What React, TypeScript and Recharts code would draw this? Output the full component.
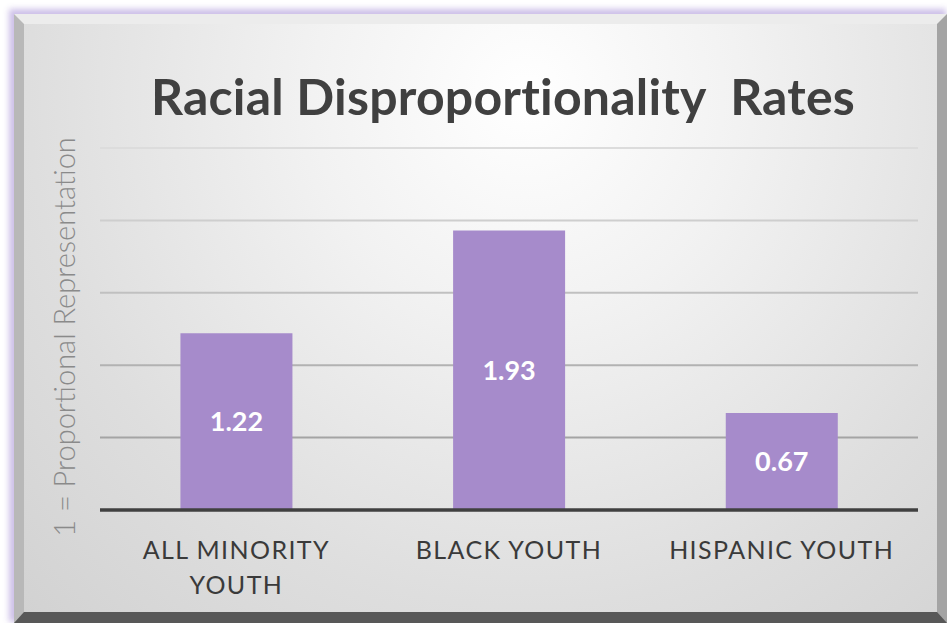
import React from "react";
import { BarChart, Bar, XAxis, YAxis, CartesianGrid, LabelList } from "recharts";

const categories = ["ALL MINORITY YOUTH", "BLACK YOUTH", "HISPANIC YOUTH"];
const tickLines: Record<string, string[]> = {
  "ALL MINORITY YOUTH": ["ALL MINORITY", "YOUTH"],
  "BLACK YOUTH": ["BLACK YOUTH"],
  "HISPANIC YOUTH": ["HISPANIC YOUTH"],
};
const rates = [1.22, 1.93, 0.67];
const yTicks = [0, 0.5, 1, 1.5, 2, 2.5];

const data = categories.map((name, i) => ({ name, rate: rates[i] }));

const FONT = "Lato, 'Open Sans', sans-serif";

function CategoryTick(props: any) {
  const { x, y, payload } = props;
  const lines = tickLines[payload.value] ?? [payload.value];
  return (
    <text
      x={x}
      y={y + 41}
      textAnchor="middle"
      fill="#3a3a3a"
      fontFamily={FONT}
      fontSize={25}
      letterSpacing={1.4}
    >
      {lines.map((l, i) => (
        <tspan key={l} x={x} dy={i === 0 ? 0 : 35}>
          {l}
        </tspan>
      ))}
    </text>
  );
}

// grid gets darker toward the baseline, like the original
function GridLine(props: any) {
  const { x1, x2, y1, y2 } = props;
  const t = Math.max(0, Math.min(1, (y1 - 148) / 290));
  const c = Math.round(0xdc - t * (0xdc - 0xa4));
  const hex = c.toString(16).padStart(2, "0");
  return <line x1={x1} x2={x2} y1={y1} y2={y2} stroke={`#${hex}${hex}${hex}`} strokeWidth={2} />;
}

export default function App() {
  return (
    <div style={{ position: "absolute", left: 0, top: 0, width: 947, height: 623, overflow: "hidden", background: "#fff" }}>
      {/* panel with bevelled frame */}
      <div
        style={{
          position: "absolute",
          left: 14,
          top: 14,
          width: 933,
          height: 609,
          boxSizing: "border-box",
          borderStyle: "solid",
          borderWidth: "10px 10px 11px 10px",
          borderColor: "#ececec #a4a4a4 #585858 #b8b8b8",
          background: "radial-gradient(ellipse at 55% 12%, #ffffff 0%, #f2f2f2 30%, #dedede 70%, #d2d2d2 100%)",
          boxShadow: "-3px -3px 6px 2px rgba(200,185,230,0.9)",
        }}
      />
      <div
        style={{
          position: "absolute",
          left: 0,
          top: 66,
          width: 1006,
          textAlign: "center",
          fontFamily: FONT,
          fontWeight: 700,
          fontSize: 50,
          color: "#404040",
          lineHeight: "60px",
          letterSpacing: 0.2,
        }}
      >
        Racial Disproportionality&nbsp; Rates
      </div>
      <div style={{ position: "absolute", left: 0, top: 0 }}>
        <BarChart
          width={947}
          height={623}
          data={data}
          margin={{ top: 148, right: 29, bottom: 0, left: 0 }}
          barCategoryGap="29.5%"
        >
          <CartesianGrid vertical={false} horizontal={(p: any) => <GridLine key={p.key ?? p.index} {...p} />} />
          <YAxis
            width={100}
            domain={[0, 2.5]}
            ticks={yTicks}
            axisLine={false}
            tickLine={false}
            tick={() => <g />}
            label={{
              value: "1 = Proportional Representation",
              angle: -90,
              position: "insideLeft",
              dx: 60,
              dy: 8,
              style: { textAnchor: "middle", fill: "#8a8a8a", fontFamily: FONT, fontSize: 29, fontWeight: 300 },
            }}
          />
          <XAxis
            dataKey="name"
            height={113}
            axisLine={{ stroke: "#404040", strokeWidth: 3.5 }}
            tickLine={false}
            interval={0}
            tick={<CategoryTick />}
          />
          <Bar dataKey="rate" fill="#a68bcb" isAnimationActive={false}>
            <LabelList
              dataKey="rate"
              position="center"
              formatter={(v: any) => Number(v).toFixed(2)}
              style={{ fill: "#ffffff", fontFamily: FONT, fontWeight: 700, fontSize: 27 }}
            />
          </Bar>
        </BarChart>
      </div>
    </div>
  );
}
